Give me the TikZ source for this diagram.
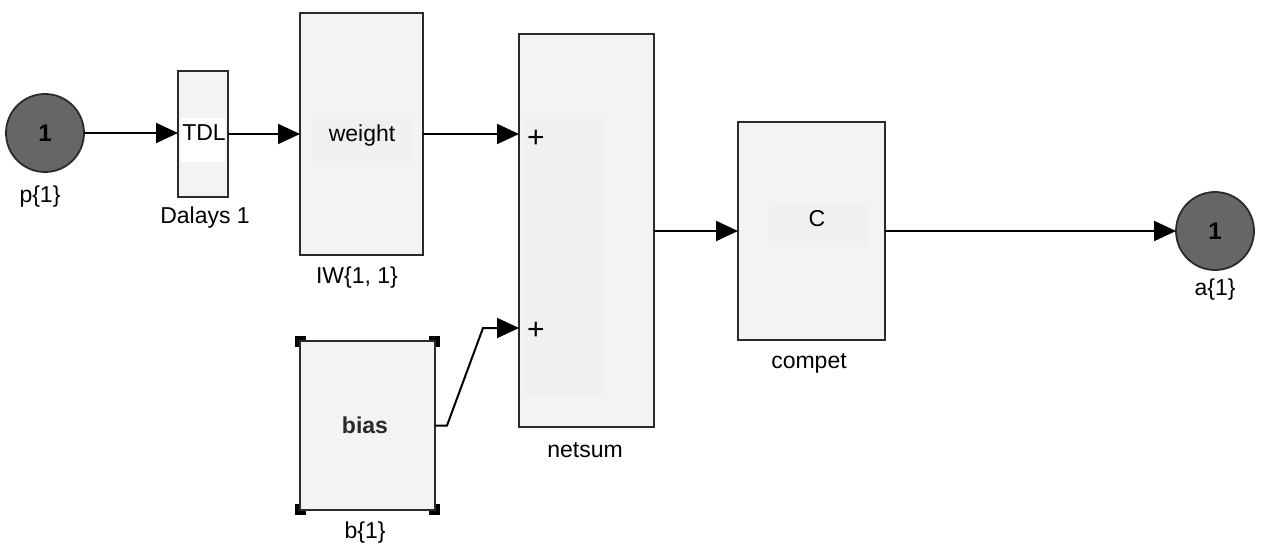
\documentclass[tikz,border=0pt]{standalone}
\usepackage{fontspec}
\setmainfont{Liberation Sans}
\usetikzlibrary{arrows.meta,calc}
\definecolor{boxfill}{HTML}{F3F3F3}
\definecolor{innerfill}{HTML}{F0F0F0}
\definecolor{portfill}{HTML}{666666}
\definecolor{edge}{HTML}{2A2A2A}
\begin{document}
\begin{tikzpicture}[x=0.5pt,y=-0.5pt,
  blk/.style={draw=edge,fill=boxfill,line width=1.2pt,inner sep=0pt,outer sep=0pt},
  port/.style={circle,draw=edge,fill=portfill,line width=0.9pt,inner sep=0pt,outer sep=0pt,minimum size=39pt,font=\fontsize{12}{13}\selectfont\bfseries},
  conn/.style={line width=1pt,-{Triangle[length=11pt,width=10pt]}},
  lab/.style={font=\fontsize{11.5}{13}\selectfont,inner sep=0pt},
  plus/.style={font=\fontsize{15}{16}\selectfont,inner sep=0pt},
  handle/.style={fill=black}
]
\useasboundingbox (0,0) rectangle (1262,545);

% ports
\node[port] (p1) at (45,133) {1};
\node[lab] (p1l) at (40,197) {p\{1\}};
\node[port] (a1) at (1215,231) {1};
\node[lab] (a1l) at (1215,290) {a\{1\}};

% TDL
\node[blk,minimum width=25pt,minimum height=63pt] (tdl) at (203,134) {};
\fill[white] (181,118) rectangle (225,162);
\node[lab] (tdlt) at (204,133) {TDL};
\node[lab] (tdll) at (205,218) {Dalays 1};

% weight
\node[blk,minimum width=61.5pt,minimum height=121pt] (weight) at (361.5,134) {};
\fill[innerfill] (313,118) rectangle (412,162);
\node[lab] (weightt) at (362,136) {weight};
\node[lab] (weightl) at (357,278) {IW\{1, 1\}};

% netsum
\node[blk,minimum width=67.5pt,minimum height=196.5pt] (netsum) at (586.5,230.5) {};
\fill[innerfill] (525,118) rectangle (605,395);
\node[plus] (plus1) at (536,139) {+};
\node[plus] (plus2) at (536,331) {+};
\node[lab] (netsuml) at (585,450) {netsum};

% compet
\node[blk,minimum width=73.5pt,minimum height=109pt] (C) at (811.5,231) {};
\fill[innerfill] (769,203) rectangle (867,246);
\node[lab] (Ct) at (817,219) {C};
\node[lab] (Cl) at (809,363) {compet};

% bias
\fill[handle] (295,336) rectangle (306,347);
\fill[handle] (429,336) rectangle (440,347);
\fill[handle] (295,504) rectangle (306,515);
\fill[handle] (429,504) rectangle (440,515);
\node[blk,minimum width=67.5pt,minimum height=84.5pt] (bias) at (367.5,425.5) {};
\node[lab,font=\fontsize{11.5}{13}\selectfont\bfseries,text=edge] (biast) at (365,425) {bias};
\node[lab] (biasl) at (365,533) {b\{1\}};

% connection points on netsum
\coordinate (n1) at (netsum.west |- weight.east);
\coordinate (n2) at ($(netsum.north west)+(0,294)$);

% connectors
\draw[conn] (p1.east) -- (p1.east -| tdl.west);
\draw[conn] (tdl.east) -- (tdl.east -| weight.west);
\draw[conn] (weight.east) -- (n1);
\draw[conn] (bias.east) -- ++(12,0) -- (483,328) -- (n2);
\draw[conn] (C.west -| netsum.east) -- (C.west);
\draw[conn] (C.east) -- (a1.west);
\end{tikzpicture}
\end{document}
